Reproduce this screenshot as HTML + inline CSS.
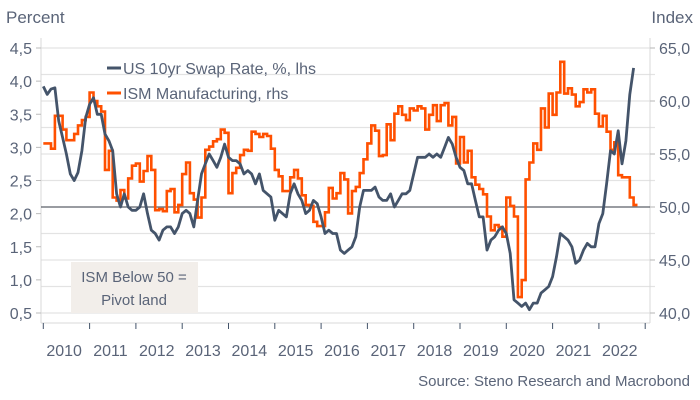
<!DOCTYPE html>
<html><head><meta charset="utf-8"><style>
body{margin:0;background:#fff}
svg{display:block;font-family:"Liberation Sans",sans-serif}
</style></head><body>
<svg id="chart" width="700" height="400">
<g id="grid"></g>
<rect x="71" y="262" width="127" height="51" fill="#f2eeea"/>
<text x="134" y="282" text-anchor="middle" font-size="15" fill="#5a6478">ISM Below 50 =</text>
<text x="134" y="305" text-anchor="middle" font-size="15" fill="#5a6478">Pivot land</text>
<line x1="41" y1="38" x2="41" y2="323" stroke="#d9d9d9"/>
<line x1="650" y1="38" x2="650" y2="323" stroke="#d9d9d9"/>
<line x1="41" y1="323" x2="650" y2="323" stroke="#d9d9d9"/>
<g id="axes"></g>
<line id="fifty" x1="41" x2="650" stroke="#3a3f4a" stroke-width="1"/>
<path id="ism" fill="none" stroke="#ff5000" stroke-width="2.6"/>
<path id="swap" fill="none" stroke="#44546a" stroke-width="2.8" stroke-linejoin="round"/>
<line x1="107" y1="68" x2="121" y2="68" stroke="#44546a" stroke-width="3"/>
<text x="123" y="74" font-size="16" fill="#5a6478">US 10yr Swap Rate, %, lhs</text>
<line x1="107" y1="93" x2="121" y2="93" stroke="#ff5000" stroke-width="3"/>
<text x="123" y="99" font-size="16" fill="#5a6478">ISM Manufacturing, rhs</text>
<text x="6" y="23" font-size="17" fill="#5a6478">Percent</text>
<text x="693" y="23" text-anchor="end" font-size="17" fill="#5a6478">Index</text>
<text x="690" y="386" text-anchor="end" font-size="15" fill="#5a6478">Source: Steno Research and Macrobond</text>
</svg>
<script>
const years=[2010,2011,2012,2013,2014,2015,2016,2017,2018,2019,2020,2021,2022];
const leftTicks=[0.5,1.0,1.5,2.0,2.5,3.0,3.5,4.0,4.5];
const rightTicks=[40,45,50,55,60,65];
const ism=[56.0,56.0,55.5,58.6,58.6,57.3,56.3,56.3,56.9,57.7,58.2,58.5,
60.8,60.0,59.5,59.0,53.5,55.3,50.9,50.6,51.6,50.8,52.7,53.9,
54.1,52.4,53.4,54.8,53.5,49.7,49.8,49.6,51.5,51.7,49.5,50.2,
53.1,54.2,51.3,50.7,49.0,50.9,55.4,55.7,56.2,56.4,57.3,57.0,
51.3,53.2,53.7,54.9,55.4,55.3,57.1,56.9,56.6,56.9,56.7,55.5,
53.5,52.9,51.5,51.5,52.8,53.5,52.7,51.1,50.2,50.1,48.6,48.2,
48.2,49.5,51.8,50.8,51.3,53.2,52.6,49.4,51.5,51.9,53.2,54.5,
56.0,57.7,57.2,54.8,54.9,57.8,56.3,58.8,59.5,58.7,58.2,59.3,
59.1,59.5,59.3,57.3,58.7,59.6,58.1,59.6,59.8,57.7,58.5,54.1,
56.6,54.2,55.3,52.8,52.1,51.7,51.2,49.1,47.8,48.3,48.1,47.2,
50.9,50.1,49.1,41.5,43.1,52.6,54.2,56.0,55.4,59.3,57.5,60.7,
58.7,60.8,63.7,60.7,61.2,60.6,59.5,59.9,61.1,60.8,61.1,58.8,
57.6,58.6,57.1,55.4,56.1,53.0,52.8,52.8,50.9,50.2];
const swap=[3.92,3.8,3.88,3.9,3.4,3.15,2.9,2.6,2.5,2.62,2.95,3.45,
3.65,3.75,3.5,3.5,3.2,3.1,2.95,2.3,2.1,2.3,2.1,2.05,
2.05,2.1,2.3,2.0,1.75,1.7,1.6,1.75,1.8,1.8,1.7,1.8,
2.0,2.05,2.0,1.8,2.2,2.6,2.75,2.9,2.8,2.7,2.85,3.05,
2.85,2.8,2.8,2.75,2.6,2.65,2.6,2.45,2.6,2.35,2.3,2.25,
1.9,2.05,2.0,1.95,2.3,2.45,2.3,2.2,2.0,2.05,2.2,2.15,
1.95,1.7,1.75,1.7,1.7,1.45,1.4,1.45,1.5,1.65,2.1,2.35,
2.35,2.35,2.4,2.25,2.2,2.2,2.3,2.1,2.2,2.3,2.3,2.35,
2.6,2.85,2.85,2.85,2.9,2.85,2.9,2.85,3.0,3.15,3.05,2.85,
2.7,2.65,2.45,2.45,2.2,1.95,1.95,1.45,1.6,1.65,1.75,1.8,
1.7,1.4,0.7,0.65,0.6,0.65,0.55,0.65,0.65,0.8,0.85,0.9,
1.05,1.35,1.7,1.65,1.6,1.5,1.25,1.3,1.45,1.55,1.5,1.5,
1.85,2.0,2.45,2.95,2.9,3.25,2.75,3.1,3.8,4.2];
const NS='http://www.w3.org/2000/svg';
const xOf=t=>43.3+(t-2010)*46.3;
const yL=v=>313-(v-0.5)*66.25;
const yR=v=>313-(v-40)*10.6;
function mk(tag,attrs,parent,txt){const e=document.createElementNS(NS,tag);for(const k in attrs)e.setAttribute(k,attrs[k]);if(txt!==undefined)e.textContent=txt;parent.appendChild(e);return e;}
const grid=document.getElementById('grid'),axes=document.getElementById('axes');
for(let v=40;v<=65;v+=2.5){const l=mk('line',{x1:41,x2:655,y1:yR(v),y2:yR(v),stroke:'#e3e3e3','stroke-width':1.3},grid);

}
leftTicks.forEach(v=>{const t=mk('text',{x:32,y:yL(v)+6,'text-anchor':'end','font-size':16,fill:'#5a6478'},axes,v.toFixed(1).replace('.',','));


mk('line',{x1:36,x2:41,y1:yL(v),y2:yL(v),stroke:'#bbb'},axes);});
rightTicks.forEach(v=>{const t=mk('text',{x:659,y:yR(v)+6,'font-size':16,fill:'#5a6478'},axes,v.toFixed(1).replace('.',','));


mk('line',{x1:650,x2:655,y1:yR(v),y2:yR(v),stroke:'#bbb'},axes);});
for(let y=2010;y<=2023;y++){mk('line',{x1:xOf(y),x2:xOf(y),y1:323,y2:329,stroke:'#44546a'},axes);}
years.forEach(y=>{const t=mk('text',{x:xOf(y+0.45),y:356,'text-anchor':'middle','font-size':16,fill:'#5a6478'},axes,String(y));

});
const f=document.getElementById('fifty');f.setAttribute('y1',yR(50));f.setAttribute('y2',yR(50));
let d='';ism.forEach((v,i)=>{const x0=xOf(2010+i/12),x1=xOf(2010+(i+1)/12),y=yR(v);d+=(i?'L':'M')+x0.toFixed(1)+','+y.toFixed(1)+'L'+x1.toFixed(1)+','+y.toFixed(1);});
document.getElementById('ism').setAttribute('d',d);
d='';swap.forEach((v,i)=>{d+=(i?'L':'M')+xOf(2010+i/12).toFixed(1)+','+yL(v).toFixed(1);});
document.getElementById('swap').setAttribute('d',d);
</script>
</body></html>
